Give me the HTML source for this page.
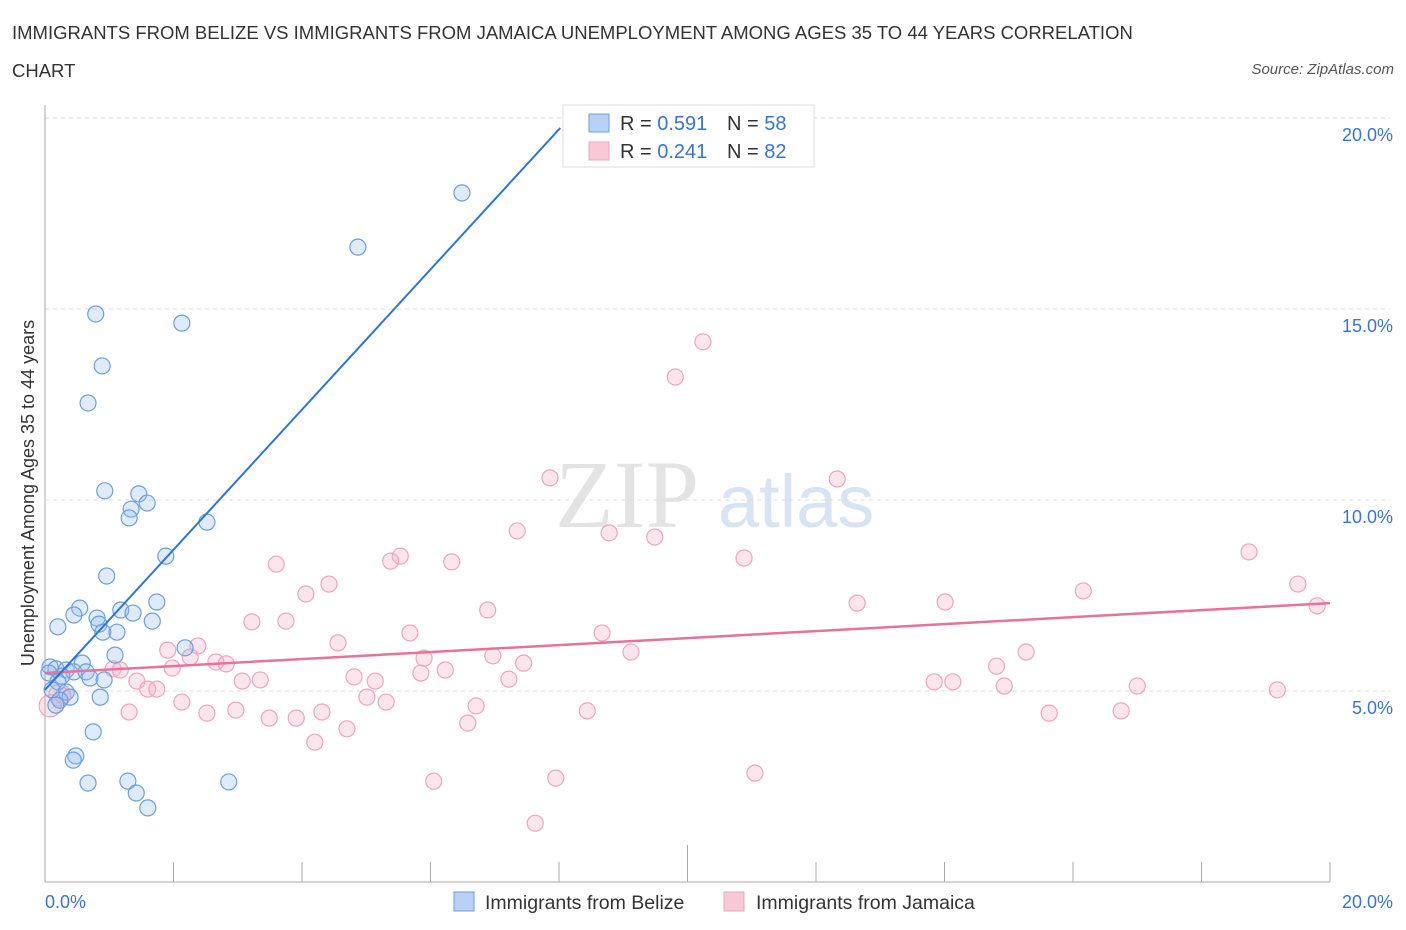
<!DOCTYPE html>
<html><head><meta charset="utf-8"><style>
body{margin:0;background:#fff;font-family:"Liberation Sans",sans-serif;}
#wrap{position:relative;width:1406px;height:930px;overflow:hidden;}
.t{position:absolute;white-space:nowrap;}
</style></head><body><div id="wrap">
<div class="t" style="left:12px;top:14px;font-size:18.5px;color:#333;line-height:38px;">IMMIGRANTS FROM BELIZE VS IMMIGRANTS FROM JAMAICA UNEMPLOYMENT AMONG AGES 35 TO 44 YEARS CORRELATION<br>CHART</div>
<div class="t" style="right:12px;top:61px;font-size:15px;color:#555;font-style:italic;">Source: ZipAtlas.com</div>
<svg id="svg" width="1406" height="930" style="position:absolute;left:0;top:0"></svg>
</div>
<script>
const yTicks=[5,10,15,20];
const yTickLabels=["5.0%","10.0%","15.0%","20.0%"];
const belizeX=[6.49,4.87,0.79,2.13,0.89,0.67,0.93,1.46,1.59,1.34,1.31,2.52,1.88,0.96,1.74,0.54,1.18,0.45,1.37,0.81,1.67,0.84,0.20,0.90,1.12,2.18,1.09,0.58,0.08,0.17,0.33,0.45,0.64,0.06,0.26,0.70,0.92,0.20,0.11,0.33,0.39,0.86,0.23,0.17,0.75,0.48,0.44,1.29,0.67,2.86,1.42,1.60];
const belizeY=[18.04,16.62,14.87,14.63,13.51,12.54,10.24,10.16,9.92,9.76,9.53,9.42,8.53,8.01,7.33,7.17,7.12,6.99,7.04,6.91,6.83,6.75,6.68,6.54,6.54,6.13,5.94,5.73,5.63,5.58,5.55,5.50,5.50,5.47,5.39,5.34,5.29,5.24,5.03,4.97,4.84,4.84,4.76,4.63,3.93,3.30,3.19,2.64,2.59,2.62,2.33,1.94];
const jamX=[10.24,9.81,7.86,12.33,7.35,8.78,9.49,18.74,10.88,5.53,5.38,6.33,3.60,4.42,19.50,16.16,4.06,12.64,14.01,19.80,6.89,3.22,3.75,5.68,8.67,4.56,2.38,1.91,9.12,15.27,6.97,2.26,5.90,2.66,2.82,7.45,14.81,1.06,1.17,1.98,6.23,5.85,4.81,5.14,7.22,3.07,3.35,1.43,13.84,14.13,14.93,17.00,1.60,1.74,19.18,0.28,5.01,5.31,2.13,6.71,2.97,1.31,2.52,8.44,15.63,16.75,4.31,3.49,3.91,6.58,4.70,4.20,6.05,7.95,11.05,7.63,0.08,0.23];
const jamY=[14.14,13.22,10.58,10.55,9.19,9.14,9.03,8.64,8.48,8.53,8.40,8.38,8.32,7.80,7.80,7.62,7.54,7.30,7.33,7.23,7.12,6.81,6.83,6.52,6.52,6.26,6.18,6.07,6.02,6.02,5.92,5.89,5.86,5.76,5.71,5.73,5.65,5.58,5.55,5.60,5.55,5.47,5.37,5.26,5.31,5.26,5.29,5.26,5.24,5.24,5.13,5.13,5.05,5.05,5.03,4.87,4.84,4.71,4.71,4.61,4.50,4.45,4.42,4.48,4.42,4.48,4.45,4.29,4.29,4.16,4.01,3.66,2.64,2.72,2.85,1.54,4.61,4.89];
const belizeTrend=[[0,5.03],[8.02,19.74]];
const jamTrend=[[0,5.47],[20,7.30]];
const X0=45,X1=1330,Y0=882,YPX=191/5;
const sx=v=>X0+(X1-X0)*v/20, sy=v=>Y0-v*YPX;
const svg=document.getElementById('svg');const NS='http://www.w3.org/2000/svg';
function mk(tag,attrs,name){const e=document.createElementNS(NS,tag);for(const k in attrs)e.setAttribute(k,attrs[k]);


svg.appendChild(e);return e;}
let w=mk('text',{x:555,y:527,'font-size':96,'font-family':'Liberation Serif',fill:'#e3e3e3'},'watermark-zip');w.textContent='ZIP';
w=mk('text',{x:718,y:527,'font-size':74,'font-family':'Liberation Sans',fill:'#d8e4f4'},'watermark-atlas');w.textContent='atlas';
yTicks.forEach((v,i)=>{mk('line',{x1:X0,x2:X1+60,y1:sy(v),y2:sy(v),stroke:'#ddd','stroke-dasharray':'4,4'},'gridline');
const t=mk('text',{x:1393,y:sy(v)+23,'text-anchor':'end','font-size':18,fill:'#3b73d4'},'y-tick-label');t.textContent=yTickLabels[i];});
mk('line',{x1:X0,x2:X0,y1:105,y2:Y0,stroke:'#aaa'},'y-axis');
mk('line',{x1:X0,x2:X1,y1:Y0,y2:Y0,stroke:'#aaa'},'x-axis');
for(let i=0;i<=10;i++){const x=sx(i*2);mk('line',{x1:x,x2:x,y1:Y0,y2:i==5?845:862,stroke:'#aaa'},'x-tick');}
let t=mk('text',{x:45,y:908,'font-size':18,fill:'#3b73d4'},'x-tick-label');t.textContent='0.0%';
t=mk('text',{x:1393,y:908,'text-anchor':'end','font-size':18,fill:'#3b73d4'},'x-tick-label');t.textContent='20.0%';
t=mk('text',{x:34,y:493,'font-size':18,fill:'#333','text-anchor':'middle',transform:'rotate(-90 34 493)'},'y-axis-title');t.textContent='Unemployment Among Ages 35 to 44 years';
jamX.forEach((x,i)=>mk('circle',{cx:sx(x),cy:sy(jamY[i]),r:i>=jamX.length-2?11:8,fill:'rgba(244,170,195,0.3)',stroke:'#eea5bd','stroke-width':1.2},'jamaica-point'));
belizeX.forEach((x,i)=>mk('circle',{cx:sx(x),cy:sy(belizeY[i]),r:8,fill:'rgba(150,190,240,0.3)',stroke:'#6c9fdd','stroke-width':1.2},'belize-point'));
mk('line',{x1:sx(jamTrend[0][0]),y1:sy(jamTrend[0][1]),x2:sx(jamTrend[1][0]),y2:sy(jamTrend[1][1]),stroke:'#e8729a','stroke-width':2.5},'jamaica-trendline');
mk('line',{x1:sx(belizeTrend[0][0]),y1:sy(belizeTrend[0][1]),x2:sx(belizeTrend[1][0]),y2:sy(belizeTrend[1][1]),stroke:'#2f74d8','stroke-width':2},'belize-trendline');
mk('rect',{x:563,y:105,width:251,height:62,fill:'#fff',stroke:'#ddd'},'legend-box');
[[123,'#b8d1f5','#6c9fdd','0.591','58'],[151,'#f8c8d7','#eea5bd','0.241','82']].forEach(r=>{
mk('rect',{x:589,y:r[0]-9,width:20,height:18,fill:r[1],stroke:r[2]},'legend-swatch');
let a=mk('text',{x:620,y:r[0]+7,'font-size':20,fill:'#333'},'legend-r');a.innerHTML='R = <tspan fill="#3b73d4">'+r[3]+'</tspan>';
a=mk('text',{x:727,y:r[0]+7,'font-size':20,fill:'#333'},'legend-n');a.innerHTML='N = <tspan fill="#3b73d4">'+r[4]+'</tspan>';});
mk('rect',{x:454,y:892,width:20,height:19,fill:'#b8d1f5',stroke:'#6c9fdd'},'legend-belize-swatch');
t=mk('text',{x:485,y:909,'font-size':19.5,fill:'#333'},'legend-belize');t.textContent='Immigrants from Belize';
mk('rect',{x:724,y:892,width:20,height:19,fill:'#f8c8d7',stroke:'#eea5bd'},'legend-jamaica-swatch');
t=mk('text',{x:756,y:909,'font-size':19.5,fill:'#333'},'legend-jamaica');t.textContent='Immigrants from Jamaica';
</script></body></html>
